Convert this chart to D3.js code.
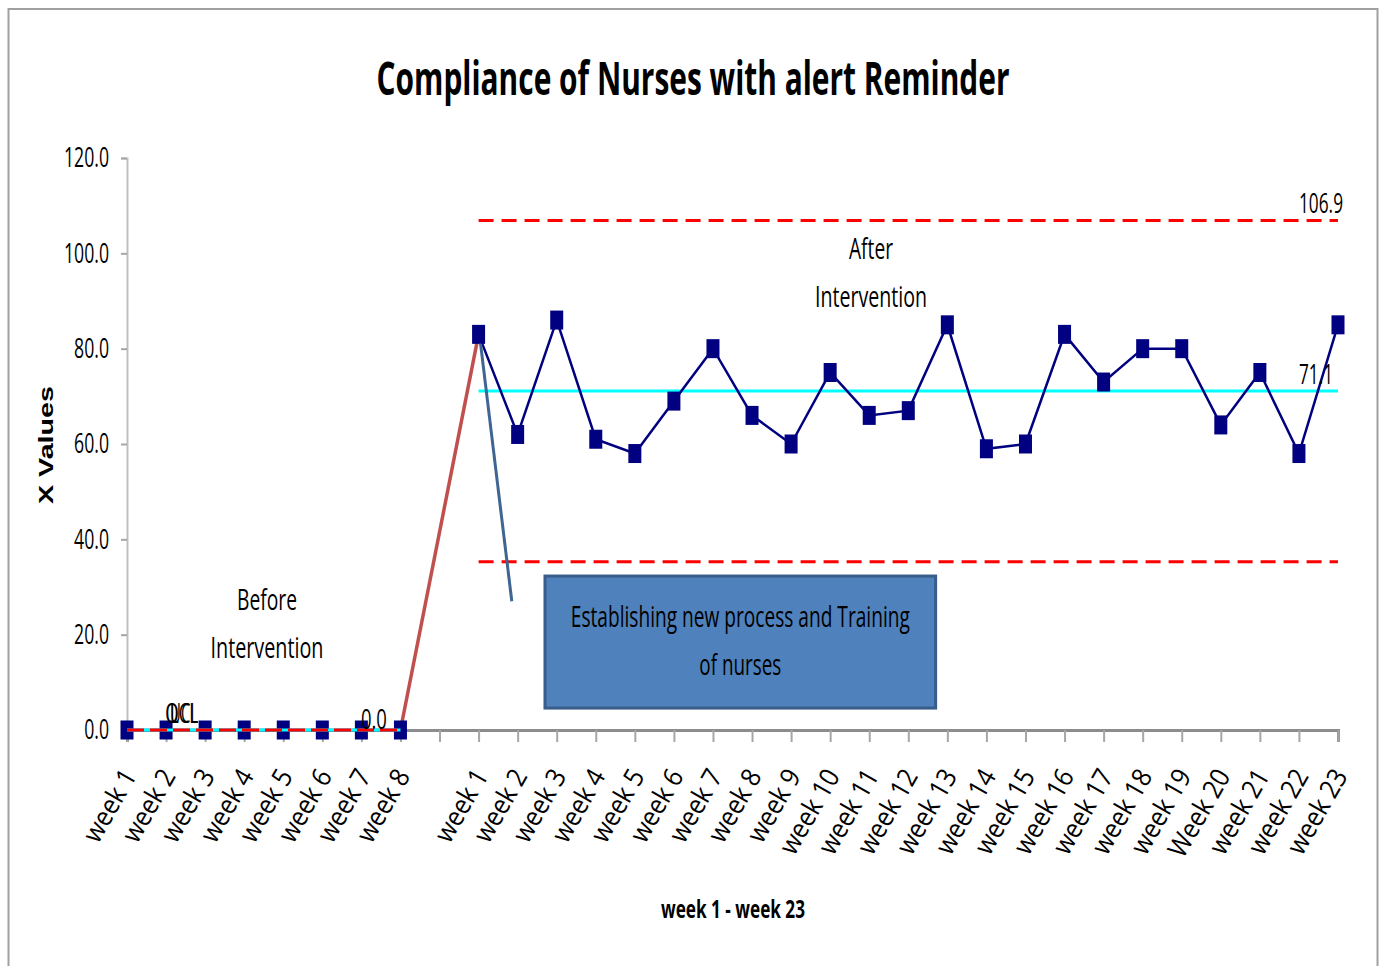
<!DOCTYPE html>
<html>
<head>
<meta charset="utf-8">
<script src="https://cdn.jsdelivr.net/npm/d3@7"></script>
<style>
  body { margin: 0; background: #fff; }
  text { font-family: "Liberation Sans Narrow", "Open Sans", sans-serif; fill: #000; }
</style>
</head>
<body>
<svg width="1379" height="966"></svg>
<script>
// chart data
var beforeWeeks = ["week 1", "week 2", "week 3", "week 4", "week 5", "week 6", "week 7", "week 8"];
var beforeValues = [0, 0, 0, 0, 0, 0, 0, 0];
var afterWeeks = ["week 1", "week 2", "week 3", "week 4", "week 5", "week 6", "week 7", "week 8",
    "week 9", "week 10", "week 11", "week 12", "week 13", "week 14", "week 15", "week 16",
    "week 17", "week 18", "week 19", "Week 20", "week 21", "week 22", "week 23"];
var afterValues = [83, 62, 86, 61, 58, 69, 80, 66, 60, 75, 66, 67, 85, 59, 60, 83,
    73, 80, 80, 64, 75, 58, 85];
var limitNames = ["UCL", "CL", "LCL"];
var beforeLimits = [0, 0, 0];
var afterLimits = [106.9, 71.1, 35.3];
var yTicks = [0, 20, 40, 60, 80, 100, 120];

var svg = d3.select("svg"),
    width = +svg.attr("width"),
    height = +svg.attr("height");

// outer frame like the spreadsheet chart area
svg.append("rect")
    .attr("x", 8.5).attr("y", 9).attr("width", 1369).attr("height", 990)
    .attr("fill", "none").attr("stroke", "#a0a0a0").attr("stroke-width", 2);

// one key per category, with an empty slot between the two phases
var beforeKeys = beforeWeeks.map(function(d, i) { return "b" + i; });
var afterKeys = afterWeeks.map(function(d, i) { return "a" + i; });
var keys = beforeKeys.concat(["gap"], afterKeys);
var labelOf = {};
beforeKeys.forEach(function(k, i) { labelOf[k] = beforeWeeks[i]; });
afterKeys.forEach(function(k, i) { labelOf[k] = afterWeeks[i]; });
labelOf["gap"] = "";

var x = d3.scalePoint().domain(keys).range([127, 1338]);
var y = d3.scaleLinear().domain([0, 120]).range([730, 158]);
var step = x.step();

// title
svg.append("text")
    .attr("x", 693).attr("y", 95)
    .attr("text-anchor", "middle")
    .attr("font-size", 46).attr("font-weight", "bold")
    .attr("textLength", 633).attr("lengthAdjust", "spacingAndGlyphs")
    .text("Compliance of Nurses with alert Reminder");

// y axis
var yAxis = svg.append("g")
    .attr("transform", "translate(127,0)")
    .call(d3.axisLeft(y).tickValues(yTicks).tickSize(6).tickFormat(d3.format(".1f")));
yAxis.select(".domain").attr("stroke", "#bfbfbf").attr("stroke-width", 2);
yAxis.selectAll(".tick line").attr("stroke", "#a6a6a6").attr("stroke-width", 2);
yAxis.selectAll(".tick text")
    .attr("font-size", 28)
    .attr("x", -18 / 0.63)
    .attr("transform", "scale(0.63,1)");

svg.append("text")
    .attr("transform", "translate(53,445) rotate(-90)")
    .attr("text-anchor", "middle")
    .style("font-family", "'Liberation Sans', Arial, sans-serif")
    .attr("font-size", 21).attr("font-weight", "bold")
    .attr("textLength", 118).attr("lengthAdjust", "spacingAndGlyphs")
    .text("X Values");

// x axis
var xAxis = svg.append("g")
    .attr("transform", "translate(0,730)")
    .call(d3.axisBottom(x).tickSize(12).tickFormat(function(k) { return labelOf[k]; }));
xAxis.select(".domain").attr("stroke", "#8c8c8c").attr("stroke-width", 3);
xAxis.selectAll(".tick line").attr("stroke", "#a6a6a6").attr("stroke-width", 2);
xAxis.selectAll(".tick text")
    .attr("font-size", 27)
    .attr("text-anchor", "end")
    .attr("x", 0).attr("y", 0).attr("dy", 0)
    .attr("transform", "translate(10,46) rotate(-60) scale(0.9,1)");

svg.append("text")
    .attr("x", 733).attr("y", 918)
    .attr("text-anchor", "middle")
    .attr("font-size", 25).attr("font-weight", "bold")
    .attr("textLength", 144).attr("lengthAdjust", "spacingAndGlyphs")
    .text("week 1 - week 23");

// ---- after intervention: limits, line, markers
var aStart = x(afterKeys[0]), aEnd = x(afterKeys[afterKeys.length - 1]);
var limitStyle = {
    UCL: { color: "#ff0000", dash: "15,8" },
    CL: { color: "#00ffff", dash: null },
    LCL: { color: "#ff0000", dash: "15,8" }
};
limitNames.forEach(function(n, i) {
    svg.append("line")
        .attr("x1", aStart).attr("x2", aEnd)
        .attr("y1", y(afterLimits[i])).attr("y2", y(afterLimits[i]))
        .attr("stroke", limitStyle[n].color).attr("stroke-width", 3)
        .attr("stroke-dasharray", limitStyle[n].dash);
});

// jump from week 8 (before) to week 1 (after)
svg.append("line")
    .attr("x1", x(beforeKeys[7])).attr("y1", y(beforeValues[7]))
    .attr("x2", x(afterKeys[0])).attr("y2", y(afterValues[0]))
    .attr("stroke", "#c0504d").attr("stroke-width", 3.5);

var line = d3.line()
    .x(function(d) { return x(d.k); })
    .y(function(d) { return y(d.v); });

var afterData = afterKeys.map(function(k, i) { return { k: k, v: afterValues[i] }; });
var beforeData = beforeKeys.map(function(k, i) { return { k: k, v: beforeValues[i] }; });

svg.append("path")
    .datum(afterData)
    .attr("d", line)
    .attr("fill", "none").attr("stroke", "#000080").attr("stroke-width", 2.5);

var mw = 13, mh = 19;
function markers(data) {
    svg.append("g").selectAll("rect")
        .data(data)
        .enter().append("rect")
        .attr("x", function(d) { return x(d.k) - mw / 2; })
        .attr("y", function(d) { return y(d.v) - mh / 2; })
        .attr("width", mw).attr("height", mh)
        .attr("fill", "#000080");
}
markers(afterData);

// ---- before intervention: markers then the limit lines over them
svg.append("path")
    .datum(beforeData)
    .attr("d", line)
    .attr("fill", "none").attr("stroke", "#000080").attr("stroke-width", 2.5);
markers(beforeData);

var bStart = x(beforeKeys[0]), bEnd = x(beforeKeys[beforeKeys.length - 1]);
svg.append("line")
    .attr("x1", bStart).attr("x2", bEnd)
    .attr("y1", y(beforeLimits[1])).attr("y2", y(beforeLimits[1]))
    .attr("stroke", "#00ffff").attr("stroke-width", 3);
svg.append("line")
    .attr("x1", bStart).attr("x2", bEnd)
    .attr("y1", y(beforeLimits[0])).attr("y2", y(beforeLimits[0]))
    .attr("stroke", "#ff0000").attr("stroke-width", 3)
    .attr("stroke-dasharray", "17,6");

// limit value labels
svg.append("text")
    .attr("x", aEnd + 5).attr("y", y(afterLimits[0]) - 7)
    .attr("text-anchor", "end").attr("font-size", 27)
    .attr("textLength", 44).attr("lengthAdjust", "spacingAndGlyphs")
    .text(afterLimits[0].toFixed(1));
svg.append("text")
    .attr("x", aEnd - 5).attr("y", y(afterLimits[1]) - 7)
    .attr("text-anchor", "end").attr("font-size", 27)
    .attr("textLength", 34).attr("lengthAdjust", "spacingAndGlyphs")
    .text(afterLimits[1].toFixed(1));
svg.append("text")
    .attr("x", (x(beforeKeys[6]) + x(beforeKeys[7])) / 2 - 7).attr("y", y(beforeLimits[1]) - 1)
    .attr("text-anchor", "middle").attr("font-size", 27)
    .attr("textLength", 26).attr("lengthAdjust", "spacingAndGlyphs")
    .text(beforeLimits[1].toFixed(1));
// overlapping "0" and "UCL"/"LCL" labels near week 2, as in the source
svg.append("text")
    .attr("x", x(beforeKeys[1]) - 1).attr("y", y(0) - 7)
    .attr("font-size", 27)
    .attr("textLength", 14).attr("lengthAdjust", "spacingAndGlyphs")
    .text("0");
svg.append("text")
    .attr("x", x(beforeKeys[1]) + 4).attr("y", y(0) - 7)
    .attr("font-size", 27)
    .attr("textLength", 28).attr("lengthAdjust", "spacingAndGlyphs")
    .text(limitNames[0]);
svg.append("text")
    .attr("x", x(beforeKeys[1]) + 4).attr("y", y(0) - 7)
    .attr("font-size", 27)
    .attr("textLength", 28).attr("lengthAdjust", "spacingAndGlyphs")
    .text(limitNames[2]);

// phase labels
function label2(cx, y1, lines, widths) {
    lines.forEach(function(t, i) {
        svg.append("text")
            .attr("x", cx).attr("y", y1 + i * 48)
            .attr("text-anchor", "middle").attr("font-size", 29)
            .attr("textLength", widths[i]).attr("lengthAdjust", "spacingAndGlyphs")
            .text(t);
    });
}
label2(267, 610, ["Before", "Intervention"], [60, 113]);
label2(871, 259, ["After", "Intervention"], [44, 112]);

// annotation arrow and box
svg.append("line")
    .attr("x1", aStart + 2).attr("y1", y(81))
    .attr("x2", aStart + step * 0.85).attr("y2", y(27))
    .attr("stroke", "#3f6593").attr("stroke-width", 3);

var boxX = aStart + step * 1.7, boxW = step * 10;
svg.append("rect")
    .attr("x", boxX).attr("y", y(32.3))
    .attr("width", boxW).attr("height", y(4.6) - y(32.3))
    .attr("fill", "#4f81bd").attr("stroke", "#385d8a").attr("stroke-width", 3);
var boxLines = ["Establishing new process and Training", "of nurses"];
var boxWidths = [339, 82];
boxLines.forEach(function(t, i) {
    svg.append("text")
        .attr("x", boxX + boxW / 2).attr("y", 627 + i * 48)
        .attr("text-anchor", "middle").attr("font-size", 29)
        .attr("textLength", boxWidths[i]).attr("lengthAdjust", "spacingAndGlyphs")
        .text(t);
});
</script>
</body>
</html>
